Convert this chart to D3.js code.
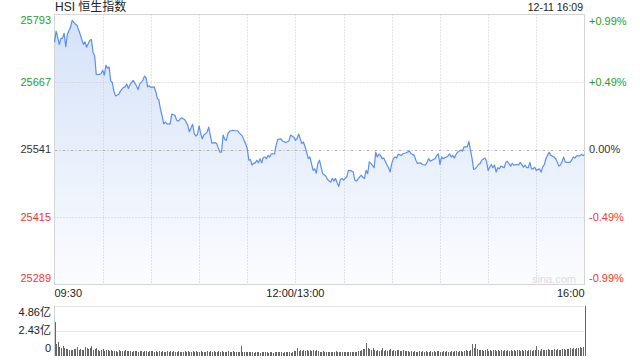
<!DOCTYPE html>
<html>
<head>
<meta charset="utf-8">
<title>HSI</title>
<script src="https://d3js.org/d3.v7.min.js"></script>
<style>
body { margin:0; background:#fff; }
svg text { font-family: Arial, "Liberation Sans", "Noto Sans CJK SC", sans-serif; }
</style>
</head>
<body>
<div id="chart"></div>
<script>

////////////////////////////////
// DATA
var TITLE = "HSI 恒生指数";
var STAMP = "12-11 16:09";
var PREV_CLOSE = 25541;

// minute index since 09:30 (12:00 and 13:00 share index 150)
var minutes = [0,1,2,3,4,5,6,7,8,10,11,13,14,16,18,19,20,22,23,24,25,26,28,29,30,31,32,33,34,35,36,37,38,40,41,43,44,45,46,47,48,49,
  51,52,53,55,56,57,58,59,60,62,63,64,65,66,67,68,69,70,72,73,75,76,77,79,81,82,83,84,86,87,88,89,90,91,92,93,95,96,97,98,100,101,
  103,104,105,106,107,108,109,111,112,114,115,117,118,119,120,121,122,123,124,125,126,127,128,129,130,131,132,133,134,135,137,138,
  139,141,142,144,146,147,149,150,151,152,153,154,155,156,157,158,159,160,161,162,163,164,165,166,167,169,170,172,173,174,175,176,
  177,178,179,180,182,183,185,186,187,188,190,191,192,193,194,195,196,197,199,200,201,202,203,204,205,207,208,209,210,211,212,213,
  214,216,217,219,221,222,224,225,226,228,229,231,232,233,234,235,237,238,239,240,241,242,244,245,246,247,248,249,250,251,253,254,
  255,257,258,259,260,261,262,264,265,266,268,269,270,271,272,273,274,275,276,277,278,280,281,282,284,285,286,288,289,290,292,293,
  294,295,296,297,298,299,300,302,303,304,305,306,308,309,311,312,313,314,315,316,317,318,319,321,322,323,324,325,327,328,329,330];

var prices = [25741,25762,25750,25737,25748,25749,25758,25733,25756,25769,25782,25775,25773,25756,25737,25742,25732,25745,25746,25722,
  25716,25681,25681,25683,25689,25680,25698,25693,25695,25669,25666,25650,25641,25644,25650,25657,25658,25663,25655,25662,25666,25670,
  25660,25653,25663,25670,25678,25675,25658,25660,25657,25658,25650,25637,25633,25616,25604,25589,25592,25589,25589,25607,25605,25596,
  25594,25600,25597,25592,25586,25574,25588,25571,25566,25569,25585,25571,25561,25568,25573,25583,25568,25553,25554,25552,25536,25536,
  25568,25560,25558,25571,25575,25577,25576,25576,25572,25566,25558,25552,25543,25521,25522,25512,25515,25516,25521,25516,25524,25516,
  25526,25527,25524,25530,25527,25533,25533,25549,25560,25561,25557,25554,25557,25568,25564,25558,25561,25570,25561,25552,25555,25546,
  25536,25524,25527,25515,25502,25505,25497,25515,25521,25508,25496,25491,25485,25480,25487,25482,25487,25479,25472,25485,25487,25484,
  25490,25502,25501,25499,25484,25482,25490,25493,25489,25487,25502,25496,25518,25515,25507,25536,25527,25532,25530,25524,25525,25512,
  25507,25499,25515,25524,25527,25525,25532,25530,25533,25535,25538,25533,25530,25521,25515,25516,25513,25512,25517,25524,25519,25521,
  25524,25530,25533,25513,25527,25524,25527,25529,25533,25527,25530,25525,25532,25536,25540,25538,25546,25546,25556,25540,25524,25504,
  25505,25513,25515,25521,25525,25519,25502,25508,25513,25507,25512,25499,25507,25505,25510,25507,25517,25519,25510,25515,25512,25513,
  25512,25517,25508,25512,25507,25507,25517,25505,25505,25508,25502,25505,25499,25508,25513,25524,25536,25530,25527,25524,25518,25510,
  25512,25518,25527,25518,25517,25517,25521,25527,25525,25529,25529,25532,25530,25531];

// volume per minute, in millions (1亿 = 100)
var volumes = [
  330,107,136,80,75,97,70,65,66,49,  58,55,62,68,87,57,62,50,56,78,
  72,66,70,88,55,62,71,50,48,52,     60,45,58,50,47,52,40,48,44,38,
  50,42,46,39,52,44,41,47,36,43,     40,45,38,42,48,36,40,44,37,41,
  39,46,35,42,38,44,36,40,33,38,     42,35,39,31,44,36,38,41,33,37,
  35,40,32,45,38,34,39,36,42,33,     37,44,35,38,32,41,36,39,34,42,
  38,33,40,36,43,35,38,31,39,37,     34,40,36,33,38,35,97,38,33,36,
  30,35,32,37,29,34,31,36,28,33,     35,30,34,29,36,32,28,35,31,33,
  30,36,29,33,38,31,35,28,34,40,     45,70,42,55,48,52,46,50,44,53,
  47,51,43,49,45,38,35,40,33,37,     34,38,31,36,33,39,32,35,30,37,
  33,36,31,38,34,30,37,33,35,40,     42,55,68,60,120,72,65,58,70,52,
  48,55,46,52,70,44,50,47,53,68,     45,51,43,49,55,46,42,50,44,47,
  40,37,43,36,41,38,35,42,37,39,     36,44,38,35,40,37,43,34,39,41,
  36,38,45,35,40,37,33,42,38,44,     39,36,41,48,37,43,52,40,46,55,
  115,70,110,65,58,50,55,47,53,60,   48,52,45,50,56,43,49,46,52,44,
  50,47,55,45,51,48,53,44,49,57,     46,52,48,55,45,50,58,47,53,49,
  97,55,48,60,52,57,50,62,55,58,     53,60,56,63,58,55,65,60,57,68,
  62,70,65,72,68,75,70,80,76,82,     486];

var priceTicks = [25793, 25667, 25541, 25415, 25289];
var pctLabels = ["+0.99%", "+0.49%", "0.00%", "-0.49%", "-0.99%"];
var gridMinutes = [30, 60, 90, 120, 150, 180, 210, 240, 270, 300];
var timeLabels = ["09:30", "12:00/13:00", "16:00"];
var timeLabelMinutes = [0, 150, 330];
var volTicks = [486, 243, 0];
var volLabels = ["4.86亿", "2.43亿", "0"];

////////////////////////////////
// LAYOUT
var W = 640, H = 360;
var L = 54.5, R = 584.5, T = 14.5, B = 284.5;
var VT = 305.5, VB = 355.5;
var UP = "#1fa01f", DOWN = "#f2352f", FLAT = "#333";

function tickColor(v) {
  if (v > PREV_CLOSE) return UP;
  if (v < PREV_CLOSE) return DOWN;
  return FLAT;
}

var svg = d3.select("#chart").append("svg")
  .attr("width", W).attr("height", H)
  .style("display", "block");

var x = d3.scaleLinear().domain([0, 330]).range([L, R]);
var y = d3.scaleLinear().domain([priceTicks[4], priceTicks[0]]).range([B, T]);
var yv = d3.scaleLinear().domain([0, volTicks[0]]).range([VB, VT]);

var pts = minutes.map(function(m, i) { return [m, prices[i]]; });

// gradient under the line
var grad = svg.append("defs").append("linearGradient")
  .attr("id", "fillGrad").attr("gradientUnits", "userSpaceOnUse")
  .attr("x1", 0).attr("x2", 0).attr("y1", T).attr("y2", B);
grad.append("stop").attr("offset", 0).attr("stop-color", "#d4e2f8");
grad.append("stop").attr("offset", 1).attr("stop-color", "#fbfcff");

svg.append("path")
  .datum(pts)
  .attr("fill", "url(#fillGrad)")
  .attr("d", d3.area().x(function(d) { return x(d[0]); }).y0(B).y1(function(d) { return y(d[1]); }));

////////////////////////////////
// GRID
svg.selectAll(".vgrid").data(gridMinutes).enter().append("line")
  .attr("x1", function(d) { return Math.round(x(d)) + 0.5; })
  .attr("x2", function(d) { return Math.round(x(d)) + 0.5; })
  .attr("y1", T).attr("y2", B)
  .attr("stroke", "#c8c8c8").attr("stroke-dasharray", "1,2");

svg.selectAll(".hgrid").data(priceTicks.slice(1, 4)).enter().append("line")
  .attr("x1", L).attr("x2", R)
  .attr("y1", function(d) { return Math.round(y(d)) + 0.5; })
  .attr("y2", function(d) { return Math.round(y(d)) + 0.5; })
  .attr("stroke", function(d) { return d == PREV_CLOSE ? "#b8b8b8" : "#c8c8c8"; })
  .attr("stroke-dasharray", function(d) { return d == PREV_CLOSE ? "3,2,1,2" : "1,2"; });

// frame
svg.append("rect")
  .attr("x", L).attr("y", T).attr("width", R - L).attr("height", B - T)
  .attr("fill", "none").attr("stroke", "#d4d4d4");

// price line
svg.append("path")
  .datum(pts)
  .attr("fill", "none")
  .attr("stroke", "#5990ec")
  .attr("stroke-width", 1.2)
  .attr("stroke-linejoin", "round")
  .attr("d", d3.line().x(function(d) { return x(d[0]); }).y(function(d) { return y(d[1]); }));

////////////////////////////////
// LABELS
svg.selectAll(".ylab").data(priceTicks).enter().append("text")
  .attr("x", 51)
  .attr("y", function(d, i) { return y(d) + (i == 0 ? 6 : (i == 4 ? -6.5 : 0)); })
  .attr("dy", "0.35em")
  .attr("text-anchor", "end")
  .attr("font-size", 11)
  .attr("fill", tickColor)
  .text(function(d) { return d; });

svg.selectAll(".pctlab").data(priceTicks).enter().append("text")
  .attr("x", 589)
  .attr("y", function(d, i) { return y(d) + (i == 0 ? 6.5 : (i == 4 ? -6.5 : 0)); })
  .attr("dy", "0.35em")
  .attr("font-size", 11)
  .attr("fill", tickColor)
  .text(function(d, i) { return pctLabels[i]; });

svg.append("text")
  .attr("x", 55).attr("y", 11)
  .attr("font-size", 12).attr("fill", "#222")
  .text(TITLE);

svg.append("text")
  .attr("x", 583).attr("y", 11)
  .attr("text-anchor", "end")
  .attr("font-size", 10.5).attr("fill", "#222")
  .text(STAMP);

svg.append("text")
  .attr("x", 532).attr("y", 283)
  .attr("font-size", 11).attr("fill", "#dcdcdc")
  .text("sina.com");

svg.selectAll(".xlab").data(timeLabelMinutes).enter().append("text")
  .attr("x", function(d) { return x(d); })
  .attr("y", 297)
  .attr("text-anchor", function(d, i) { return i == 0 ? "start" : (i == 2 ? "end" : "middle"); })
  .attr("font-size", 11).attr("fill", "#222")
  .text(function(d, i) { return timeLabels[i]; });

////////////////////////////////
// VOLUME
svg.selectAll(".vol-grid").data(volTicks.slice(0, 2)).enter().append("line")
  .attr("x1", L).attr("x2", R)
  .attr("y1", function(d) { return Math.round(yv(d)) + 0.5; })
  .attr("y2", function(d) { return Math.round(yv(d)) + 0.5; })
  .attr("stroke", "#c8c8c8").attr("stroke-dasharray", "1,1");

svg.append("line")
  .attr("x1", L).attr("x2", L).attr("y1", VT).attr("y2", VB)
  .attr("stroke", "#d4d4d4");

svg.selectAll(".bar").data(volumes).enter().append("rect")
  .attr("x", function(d, i) { return Math.round(x(i)); })
  .attr("y", function(d) { return yv(d); })
  .attr("width", 1)
  .attr("height", function(d) { return VB - yv(d); })
  .attr("fill", "#666")
  .attr("shape-rendering", "crispEdges");

svg.selectAll(".vlab").data(volTicks).enter().append("text")
  .attr("x", 51)
  .attr("y", function(d, i) { return yv(d) + (i == 0 ? 7 : (i == 2 ? -7 : 0)); })
  .attr("dy", "0.35em")
  .attr("text-anchor", "end")
  .attr("font-size", 11).attr("fill", "#222")
  .text(function(d, i) { return volLabels[i]; });

</script>
</body>
</html>
